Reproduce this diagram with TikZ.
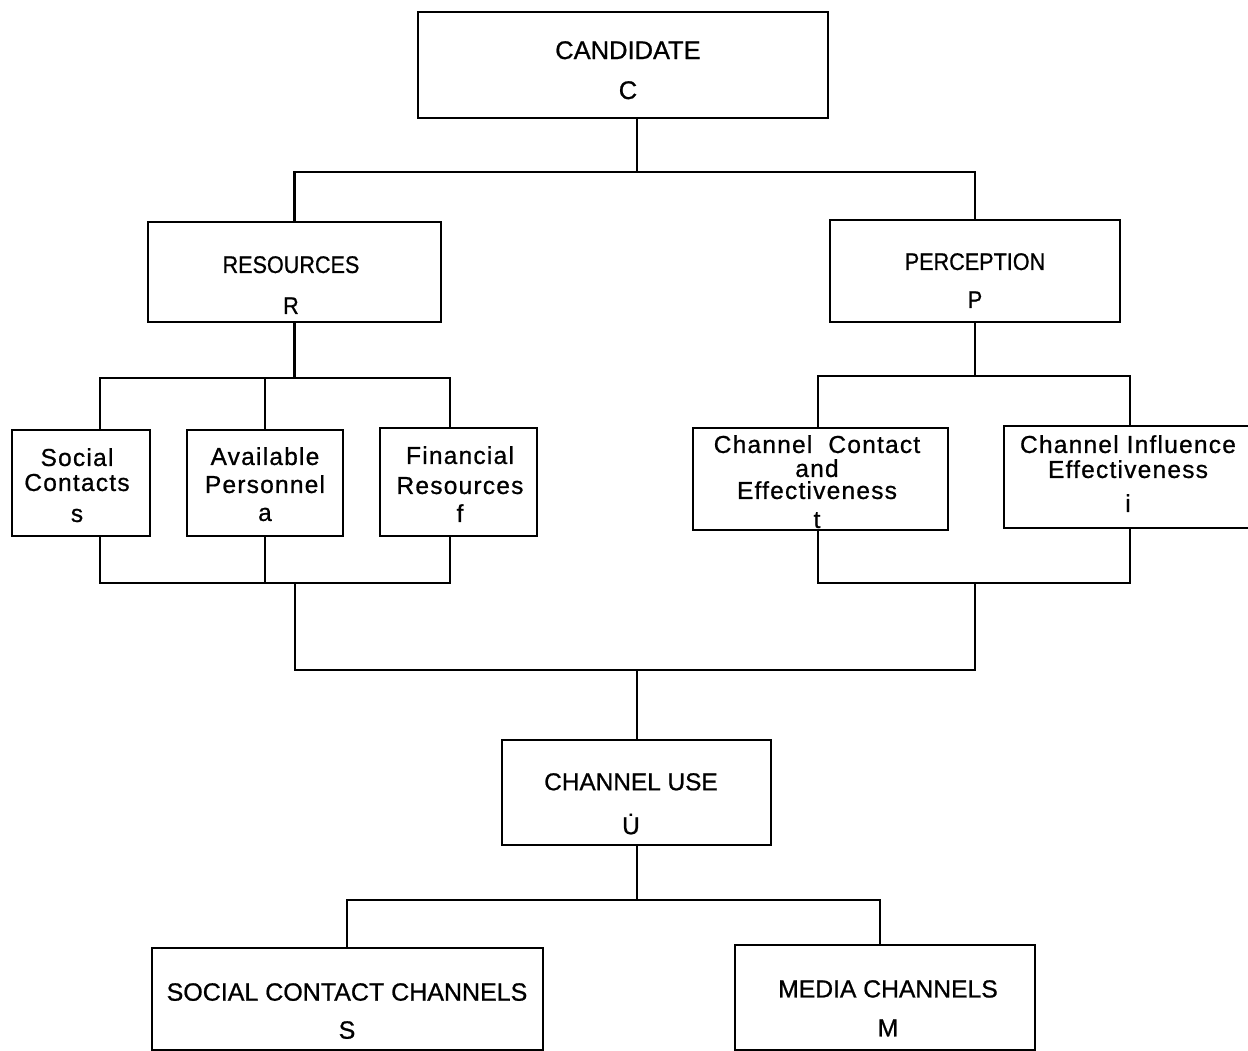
\documentclass[tikz,border=0pt]{standalone}
\usepackage{fontspec}
\setmainfont{Liberation Sans}[FakeBold=0.8]
\newfontfamily\spaced{Liberation Sans}[LetterSpace=5,FakeBold=0.8]
\newfontfamily\narrow{Liberation Sans}[FakeStretch=0.9,FakeBold=0.8]
\begin{document}
\begin{tikzpicture}[x=1pt,y=-1pt,
  box/.style={draw, line width=2.8pt, inner sep=0pt},
  caps/.style={anchor=north, inner sep=0pt, align=center, font=\fontsize{#1}{26}\selectfont},
  caps/.default=24,
  ncaps/.style={anchor=north, inner sep=0pt, align=center, font=\narrow\fontsize{24}{26}\selectfont},
  lower/.style={anchor=north, inner sep=0pt, align=center, font=\spaced\fontsize{24.5}{25}\selectfont},
  wire/.style={line width=2.8pt, line join=miter},
]
\useasboundingbox (0,0) rectangle (1248,1051);

% ---- boxes ----
\node[box, minimum width=410pt, minimum height=106pt] (cand) at (623,65) {};
\node[box, minimum width=293pt, minimum height=100pt] (res) at (294.5,272) {};
\node[box, minimum width=290pt, minimum height=102pt] (perc) at (975,271) {};
\node[box, minimum width=138pt, minimum height=106pt] (sc) at (81,483) {};
\node[box, minimum width=156pt, minimum height=106pt] (ap) at (265,483) {};
\node[box, minimum width=157pt, minimum height=108pt] (fr) at (458.5,482) {};
\node[box, minimum width=255pt, minimum height=102pt] (cce) at (820.5,479) {};
\node[box, minimum width=248pt, minimum height=102pt] (cie) at (1128,477) {};
\node[box, minimum width=269pt, minimum height=105pt] (use) at (636.5,792.5) {};
\node[box, minimum width=391pt, minimum height=102pt] (scc) at (347.5,999) {};
\node[box, minimum width=300pt, minimum height=105pt] (mc) at (885,997.5) {};

% ---- box texts ----
\node[caps=25.5] (candT) at (628,41) {CANDIDATE\\[14pt]C};
\node[ncaps] (resT) at (291,256) {RESOURCES\\[15pt]R};
\node[ncaps] (percT) at (975,253) {PERCEPTION\\[12pt]P};
\node[lower] (scT) at (77,448) {Social\\Contacts\\[6pt]s};
\node[lower] (apT) at (265,447) {Available\\[3pt]Personnel\\[3pt]a};
\node[lower] (frT) at (460,446) {Financial\\[5pt]Resources\\[3pt]f};
\node[lower] (cceT) at (817,435) {Channel\ \ Contact\\[-1pt]and\\[-3pt]Effectiveness\\[4pt]t};
\node[lower] (cieT) at (1128,435) {Channel Influence\\Effectiveness\\[9pt]i};
\node[caps=24.4] (useT) at (631,773) {CHANNEL USE\\[18pt]\.{U}};
\node[caps=25] (sccT) at (347,983) {SOCIAL CONTACT CHANNELS\\[12pt]S};
\node[caps=24.7] (mcT) at (888,980) {MEDIA CHANNELS\\[13pt]M};

% ---- junction points of the wiring ----
\coordinate (j1) at (637,172);
\coordinate (rbL) at (100,378);
\coordinate (rbR) at (450,378);
\coordinate (rlL) at (100,583);
\coordinate (rlR) at (450,583);
\coordinate (pbL) at (818,376);
\coordinate (pbR) at (1130,376);
\coordinate (plL) at (818,583);
\coordinate (plR) at (1130,583);
\coordinate (mL) at (295,670);
\coordinate (mR) at (975,670);
\coordinate (mC) at (637,670);
\coordinate (ubL) at (347,900);
\coordinate (ubR) at (880,900);

% candidate to resources / perception
\draw[wire] (cand.south -| j1) -- (j1);
\draw[wire] (res.north) -- (res.north |- j1) -- (perc.north |- j1) -- (perc.north);

% resources branch
\draw[wire] (res.south) -- (res.south |- rbL);
\draw[wire] (sc.north -| rbL) -- (rbL) -- (rbR) -- (fr.north -| rbR);
\draw[wire] (ap.north) -- (ap.north |- rbL);
\draw[wire] (sc.south -| rlL) -- (rlL) -- (rlR) -- (fr.south -| rlR);
\draw[wire] (ap.south) -- (ap.south |- rlL);

% perception branch
\draw[wire] (perc.south) -- (perc.south |- pbL);
\draw[wire] (cce.north -| pbL) -- (pbL) -- (pbR) -- (cie.north -| pbR);
\draw[wire] (cce.south -| plL) -- (plL) -- (plR) -- (cie.south -| plR);

% merge into channel use
\draw[wire] (mL |- rlL) -- (mL) -- (mR) -- (mR |- plL);
\draw[wire] (mC) -- (use.north -| mC);

% channel use to the two channel kinds
\draw[wire] (use.south -| mC) -- (mC |- ubL);
\draw[wire] (scc.north -| ubL) -- (ubL) -- (ubR) -- (mc.north -| ubR);
\end{tikzpicture}
\end{document}
